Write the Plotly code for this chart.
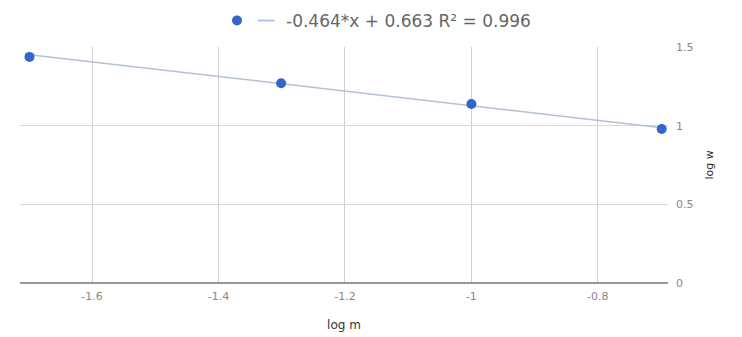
import plotly.graph_objects as go

log_m = [-1.699, -1.301, -1.0, -0.699]
log_w = [1.437, 1.27, 1.138, 0.979]
slope = -0.464
intercept = 0.663
trend_label = "-0.464*x + 0.663 R² = 0.996"
x_ticks = [-1.6, -1.4, -1.2, -1.0, -0.8]
x_tick_text = ["-1.6", "-1.4", "-1.2", "-1", "-0.8"]
y_ticks = [0, 0.5, 1, 1.5]
y_tick_text = ["0", "0.5", "1", "1.5"]

trend_x = [min(log_m), max(log_m)]
trend_y = [slope * v + intercept for v in trend_x]

fig = go.Figure()
fig.add_trace(go.Scatter(x=trend_x, y=trend_y, mode="lines",
                         line=dict(color="#b3c2d4", width=1.5),
                         showlegend=False, hoverinfo="skip"))
fig.add_trace(go.Scatter(x=log_m, y=log_w, mode="markers",
                         marker=dict(color="#3366cc", size=10),
                         name="", showlegend=True, legend="legend2"))
fig.add_trace(go.Scatter(x=[None], y=[None], mode="markers",
                         marker=dict(symbol="line-ew", size=12,
                                     line=dict(color="#a9c6f0", width=2)),
                         name=trend_label, showlegend=True, legend="legend"))

legend_font = dict(family="DejaVu Sans, Arial, sans-serif", size=17, color="#666")
fig.update_layout(
    width=742, height=337,
    margin=dict(l=20, r=74, t=47, b=54),
    paper_bgcolor="white", plot_bgcolor="white",
    font=dict(family="DejaVu Sans, Arial, sans-serif", color="#888", size=11),
    legend=dict(orientation="h", x=246 / 742, y=1 - 21 / 337, yanchor="middle",
                xanchor="left", xref="container", yref="container",
                font=legend_font, bgcolor="rgba(0,0,0,0)"),
    legend2=dict(orientation="h", x=217 / 742, y=1 - 21 / 337, yanchor="middle",
                 xanchor="left", xref="container", yref="container",
                 font=legend_font, bgcolor="rgba(0,0,0,0)"),
    xaxis=dict(range=[-1.714, -0.689], tickvals=x_ticks, ticktext=x_tick_text,
               showgrid=True, gridcolor="#d0d0d0", gridwidth=1, zeroline=False,
               showline=False, ticks="", automargin=False, ticklabelstandoff=5,
               title=dict(text="log m", font=dict(size=12, color="#333"), standoff=18)),
    yaxis=dict(range=[0, 1.5], tickvals=y_ticks, ticktext=y_tick_text, side="right",
               showgrid=True, gridcolor="#d9d9d9", gridwidth=1,
               zeroline=True, zerolinecolor="#999", zerolinewidth=2,
               showline=False, ticks="", ticklabelstandoff=7, automargin=False),
)
fig.add_annotation(text="log w", xref="paper", yref="paper", x=1.0, y=0.5,
                   xshift=49, textangle=-90, showarrow=False,
                   font=dict(size=11, color="#333"))

fig.write_html("out.html", config={"displayModeBar": False},
               post_script="document.body.style.margin='0';")
